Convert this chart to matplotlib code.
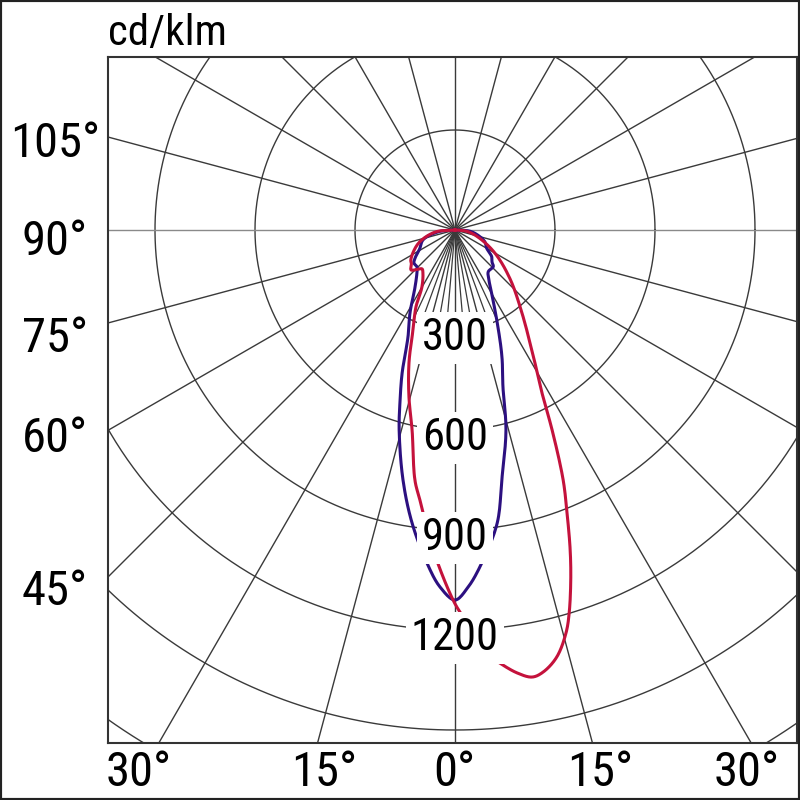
import numpy as np
import matplotlib
matplotlib.use('Agg')
import matplotlib.pyplot as plt
from matplotlib.patches import Rectangle

plt.rcParams['font.family'] = ['Liberation Sans Narrow', 'Roboto Condensed', 'Roboto', 'DejaVu Sans']

# ---------------- data ----------------
unit_label = 'cd/klm'
ring_values = [300, 600, 900, 1200, 1500, 1800]
ring_labels = ['300', '600', '900', '1200']
side_labels = ['105°', '90°', '75°', '60°', '45°']
bottom_labels = ['30°', '15°', '0°', '15°', '30°']

# C0-C180 plane (blue); negative angles = left half
c0_angles = [-90, -84, -73, -62, -55, -51.2, -45.8, -42.1, -35, -28.5, -23.7, -20.3, -17.9,
             -15.6, -11.75, -8.35, -4.8, -2.4, 0, 2.1, 4.6, 8.2, 10.6, 14.3, 17, 20.3, 23.9,
             28.5, 34.2, 38.6, 46.2, 49.1, 54, 60, 69, 84, 90]
c0_values = [0, 50, 100, 120, 146, 158, 159, 170, 209, 283, 351, 457, 536,
             623, 766, 888, 1003, 1072, 1110, 1072, 1002, 888, 763, 619, 492, 406, 318,
             239, 181, 160, 159, 147, 136, 110, 95, 50, 0]

# C90-C270 plane (red)
c90_angles = [-90, -84, -70, -56, -52.5, -47.7, -43, -40.2, -36.7, -30.1, -26.9, -22.8, -19.1,
              -15.4, -12.1, -9.1, -7.4, -3.9, -0.3, 1.2, 4.7, 5.9, 8.0, 9.8, 11.3, 13.4, 15.4,
              16.6, 18.3, 19.8, 21.6, 23.4, 25.9, 27.8, 31, 38.9, 48.5, 60, 73, 84, 90]
c90_values = [0, 60, 117, 160, 165, 178, 160, 153, 161, 198, 259, 325, 422,
              520, 614, 760, 817, 962, 1110, 1161, 1282, 1306, 1342, 1361, 1352, 1317, 1254,
              1199, 1106, 1020, 913, 817, 667, 566, 466, 320, 220, 138, 72, 35, 0]

# ---------------- layout ----------------
W = H = 800
fig = plt.figure(figsize=(8, 8), dpi=100)
fig.patch.set_facecolor('white')
ax = fig.add_axes([108 / W, 57 / H, 689 / W, 686 / H])
ax.set_xlim(-1041, 1026)
ax.set_ylim(-1539, 519)
ax.set_xticks([])
ax.set_yticks([])
for s in ax.spines.values():
    s.set_linewidth(1.5)
    s.set_color('#333333')
    s.set_zorder(6)

grid_col = '#3a3a3a'
# rings
t = np.linspace(0, 2 * np.pi, 721)
for r in ring_values:
    ax.plot(r * np.cos(t), r * np.sin(t), color=grid_col, lw=1.0, zorder=1)
# radial lines every 15 deg
R = 4000
for a in range(0, 360, 15):
    ar = np.radians(a)
    col = '#8a8a8a' if a in (90, 270) else grid_col
    ax.plot([0, R * np.sin(ar)], [0, -R * np.cos(ar)], color=col, lw=1.0, zorder=1)
# finer 5 deg lines near the centre, lower sector
r_in = ring_values[0]
for a in (-25, -20, -10, -5, 5, 10, 20, 25):
    ar = np.radians(a)
    ax.plot([0, r_in * np.sin(ar)], [0, -r_in * np.cos(ar)], color=grid_col, lw=0.9, zorder=1)


def to_xy(angles, vals):
    a = np.radians(np.asarray(angles, float))
    v = np.asarray(vals, float)
    return v * np.sin(a), -v * np.cos(a)


def smooth_path(x, y, n=12):
    """Centripetal Catmull-Rom through the given points (drawing only)."""
    P = np.column_stack([x, y])
    P = np.vstack([P[0] + (P[0] - P[1]), P, P[-1] + (P[-1] - P[-2])])
    out = []
    for i in range(1, len(P) - 2):
        p0, p1, p2, p3 = P[i - 1], P[i], P[i + 1], P[i + 2]
        def tj(ti, pa, pb):
            return ti + max(np.hypot(*(pb - pa)), 1e-6) ** 0.5
        t0 = 0.0
        t1 = tj(t0, p0, p1)
        t2 = tj(t1, p1, p2)
        t3 = tj(t2, p2, p3)
        ts = np.linspace(t1, t2, n, endpoint=False)[:, None]
        A1 = (t1 - ts) / (t1 - t0) * p0 + (ts - t0) / (t1 - t0) * p1
        A2 = (t2 - ts) / (t2 - t1) * p1 + (ts - t1) / (t2 - t1) * p2
        A3 = (t3 - ts) / (t3 - t2) * p2 + (ts - t2) / (t3 - t2) * p3
        B1 = (t2 - ts) / (t2 - t0) * A1 + (ts - t0) / (t2 - t0) * A2
        B2 = (t3 - ts) / (t3 - t1) * A2 + (ts - t1) / (t3 - t1) * A3
        C = (t2 - ts) / (t2 - t1) * B1 + (ts - t1) / (t2 - t1) * B2
        out.append(C)
    out.append(P[-2][None, :])
    out = np.vstack(out)
    return out[:, 0], out[:, 1]


x0, y0 = smooth_path(*to_xy(c0_angles, c0_values))
x1, y1 = smooth_path(*to_xy(c90_angles, c90_values))
ax.plot(x0, y0, color='#2c1080', lw=2.2, zorder=3, solid_joinstyle='round')
ax.plot(x1, y1, color='#c4123c', lw=2.2, zorder=4, solid_joinstyle='round')

# ring labels
for r, lab in zip(ring_values, ring_labels):
    ax.text(0, -r - 60, lab, ha='center', va='baseline', fontsize=32, color='black', zorder=5,
            bbox=dict(boxstyle='square,pad=0.12', fc='white', ec='none'))

# side labels (pixel layout)
side_pos = [(55, 157), (55, 255), (55, 352), (55, 452), (55, 605)]
for (px, py), lab in zip(side_pos, side_labels):
    fig.text(px / W, 1 - py / H, lab, ha='center', va='baseline', fontsize=35, color='black')

bottom_pos = [(139, 786), (324, 786), (454, 786), (600, 786), (747, 786)]
for (px, py), lab in zip(bottom_pos, bottom_labels):
    fig.text(px / W, 1 - py / H, lab, ha='center', va='baseline', fontsize=35, color='black')

fig.text(108 / W, 1 - 45 / H, unit_label, ha='left', va='baseline', fontsize=31, color='black')

fig.add_artist(Rectangle((0, 0), 1, 1, transform=fig.transFigure, fill=False,
                         ec='#222222', lw=3, zorder=10))

fig.savefig('out.png', dpi=100)
